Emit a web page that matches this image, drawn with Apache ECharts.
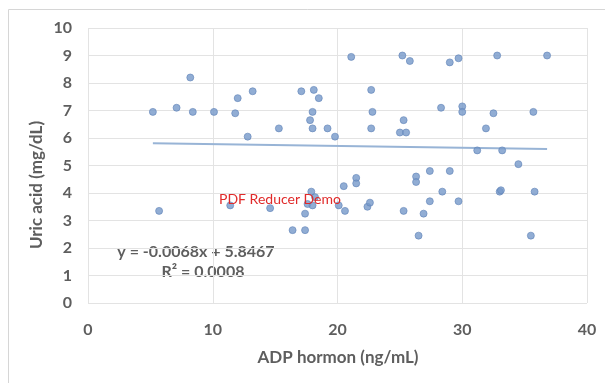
<!DOCTYPE html>
<html>
<head>
<meta charset="utf-8">
<title>Uric acid vs ADP hormon</title>
<script src="https://cdn.jsdelivr.net/npm/echarts@6/dist/echarts.min.js"></script>
<style>
  html, body { margin: 0; padding: 0; background: #ffffff; }
  #chart { width: 605px; height: 383px; }
</style>
</head>
<body>
<div id="chart"></div>
<script>
// ADP hormon (ng/mL) for each subject
const adpHormon = [
  5.2, 5.7, 7.1, 8.2, 8.4, 10.1, 11.8, 12.0, 13.2, 12.8,
  11.4, 14.6, 15.3, 17.1, 18.1, 18.5, 18.0, 17.8, 18.0, 19.2,
  19.8, 21.1, 22.7, 22.8, 22.7, 25.2, 25.8, 25.3, 25.0, 25.5,
  29.0, 29.7, 32.8, 36.8, 28.3, 30.0, 30.0, 32.5, 35.7, 31.9,
  31.2, 33.2, 34.5, 27.4, 29.0, 26.3, 26.3, 28.4, 27.4, 29.7,
  26.9, 26.5, 33.0, 33.1, 35.8, 35.5, 21.5, 21.5, 20.5, 17.6,
  18.0, 17.4, 16.4, 17.4, 20.6, 22.4, 25.3, 17.9, 18.2, 20.1,
  22.6
];
// Uric acid (mg/dL) for the same subjects
const uricAcid = [
  6.95, 3.35, 7.10, 8.20, 6.95, 6.95, 6.90, 7.45, 7.70, 6.05,
  3.55, 3.45, 6.35, 7.70, 7.75, 7.45, 6.95, 6.65, 6.35, 6.35,
  6.05, 8.95, 7.75, 6.95, 6.35, 9.00, 8.80, 6.65, 6.20, 6.20,
  8.75, 8.90, 9.00, 9.00, 7.10, 7.15, 6.95, 6.90, 6.95, 6.35,
  5.55, 5.55, 5.05, 4.80, 4.80, 4.60, 4.40, 4.05, 3.70, 3.70,
  3.25, 2.45, 4.05, 4.10, 4.05, 2.45, 4.55, 4.35, 4.25, 3.60,
  3.55, 3.25, 2.65, 2.65, 3.35, 3.50, 3.35, 4.05, 3.85, 3.55,
  3.65
];
// Linear trendline coefficients as printed on the chart
const trendSlope = -0.0068;
const trendIntercept = 5.8467;
const equationText = 'y = -0.0068x + 5.8467';
const r2Text = 'R\u00b2 = 0.0008';
const xTicks = [0, 10, 20, 30, 40];
const yTicks = [0, 1, 2, 3, 4, 5, 6, 7, 8, 9, 10];

const points = adpHormon.map((x, i) => [x, uricAcid[i]]);
const xMin = Math.min(...adpHormon);
const xMax = Math.max(...adpHormon);
const trendPoints = [xMin, xMax].map(x => [x, trendIntercept + trendSlope * x]);

const textColor = '#5e5e5e';
const font = 'Lato, "Liberation Sans", Arial, sans-serif';

const chart = echarts.init(document.getElementById('chart'), null, { renderer: 'canvas' });
chart.setOption({
  animation: false,
  backgroundColor: '#ffffff',
  grid: { left: 88, right: 18, top: 28, bottom: 80, containLabel: false },
  xAxis: {
    type: 'value',
    min: xTicks[0],
    max: xTicks[xTicks.length - 1],
    interval: 10,
    axisLine: { show: false },
    axisTick: { show: false },
    splitLine: { show: true, lineStyle: { color: '#e3e3e3', width: 1 } },
    axisLabel: { color: textColor, fontSize: 16, fontWeight: 'bold', fontFamily: font, margin: 19 }
  },
  yAxis: {
    type: 'value',
    min: yTicks[0],
    max: yTicks[yTicks.length - 1],
    interval: 1,
    axisLine: { show: false },
    axisTick: { show: false },
    splitLine: { show: true, lineStyle: { color: '#e3e3e3', width: 1 } },
    axisLabel: { color: textColor, fontSize: 16, fontWeight: 'bold', fontFamily: font, margin: 16 }
  },
  series: [
    {
      name: 'Uric acid',
      type: 'scatter',
      data: points,
      symbol: 'circle',
      symbolSize: 7,
      itemStyle: { color: '#7598c9', borderColor: '#6285b8', borderWidth: 0.8 },
      z: 3
    },
    {
      name: 'Linear trend',
      type: 'line',
      data: trendPoints,
      symbol: 'none',
      lineStyle: { color: '#98b4d6', width: 2 },
      z: 2
    }
  ],
  graphic: [
    {
      type: 'rect',
      shape: { x: 8.5, y: 9.5, width: 620, height: 400 },
      style: { fill: 'none', stroke: '#d6d6d6', lineWidth: 1 },
      silent: true, z: -1
    },
    {
      type: 'text',
      x: 37, y: 185, rotation: Math.PI / 2,
      style: {
        text: 'Uric acid (mg/dL)', fill: textColor, font: 'bold 17px ' + font,
        textAlign: 'center', textVerticalAlign: 'middle'
      }
    },
    {
      type: 'text',
      x: 338, y: 358,
      style: {
        text: 'ADP hormon (ng/mL)', fill: textColor, font: 'bold 17px ' + font,
        textAlign: 'center', textVerticalAlign: 'middle'
      }
    },
    {
      type: 'text',
      x: 196, y: 252,
      style: {
        text: equationText, fill: textColor, font: 'bold 16px ' + font,
        textAlign: 'center', textVerticalAlign: 'middle'
      }
    },
    {
      type: 'text',
      x: 203, y: 272,
      style: {
        text: r2Text, fill: textColor, font: 'bold 16px ' + font,
        textAlign: 'center', textVerticalAlign: 'middle'
      }
    },
    {
      type: 'text',
      x: 280, y: 199, z: 10,
      style: {
        text: 'PDF Reducer Demo', fill: '#e02a2a', font: '14px ' + font,
        textAlign: 'center', textVerticalAlign: 'middle'
      }
    }
  ]
});
</script>
</body>
</html>
